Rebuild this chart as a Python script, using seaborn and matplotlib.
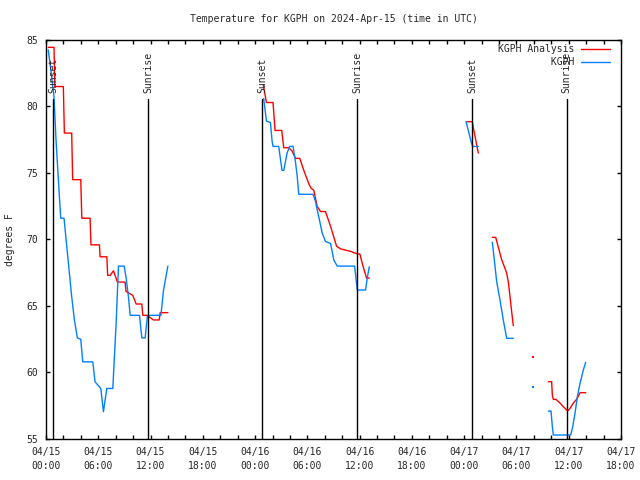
import numpy as np
import pandas as pd
import matplotlib
matplotlib.use("Agg")
import matplotlib.pyplot as plt
from matplotlib.ticker import MultipleLocator
import seaborn as sns

nan = np.nan

# hours since 2024-04-15 00:00 UTC ; NaN separates segments
ana_hours = [0.26, 0.92, 1.01, 1.99, 2.11, 2.95, 3.06, 3.99, 4.11, 5.06, 5.16, 6.13, 6.21, 6.98, 7.08,
             7.36, 7.74, 8.2, 9.08, 9.18, 9.96, 10.35, 11.0, 11.11, 11.56, 12.34, 12.99, 13.11, 13.99,
             nan,
             24.95, 25.3, 26.06, 26.29, 27.06, 27.29, 27.86, 28.25, 28.63, 29.13, 29.59, 30.16, 30.43,
             30.74, 31.12, 31.51, 32.08, 32.66, 33.35, 33.8, 34.38, 35.03, 35.34, 36.03, 36.3, 36.79, 37.11,
             nan,
             48.29, 48.93, 49.05, 49.32, 49.62,
             nan,
             51.23, 51.62, 51.8, 52.31, 52.61, 52.88, 53.06, 53.26, 53.45, 53.64,
             nan,
             55.93,
             nan,
             57.66, 58.04, 58.12, 58.23, 58.54, 59.0, 59.57, 59.88, 60.15, 60.53, 60.92, 61.3, 61.95]
ana_temp = [84.45, 84.45, 81.5, 81.5, 78.0, 78.0, 74.5, 74.5, 71.6, 71.6, 69.6, 69.6, 68.7, 68.7, 67.3,
            67.3, 67.65, 66.8, 66.8, 66.1, 65.8, 65.15, 65.15, 64.3, 64.3, 63.95, 63.95, 64.5, 64.5,
            nan,
            81.6, 80.3, 80.3, 78.2, 78.2, 76.9, 76.9, 76.65, 76.1, 76.1, 75.2, 74.2, 73.85,
            73.7, 72.5, 72.1, 72.1, 71.0, 69.5, 69.3, 69.2, 69.1, 69.0, 68.9, 68.2, 67.1, 67.1,
            nan,
            78.86, 78.86, 78.4, 77.5, 76.5,
            nan,
            70.16, 70.16, 69.71, 68.46, 67.96, 67.46, 66.83, 65.7, 64.57, 63.52,
            nan,
            61.14,
            nan,
            59.31, 59.31, 58.3, 57.98, 57.98, 57.7, 57.3, 57.1, 57.3, 57.7, 58.0, 58.48, 58.48]

obs_hours = [0.26, 0.6, 0.92, 1.15, 1.42, 1.69, 2.07, 2.38, 2.68, 2.95, 3.26, 3.6, 3.99, 4.22, 5.37,
             5.63, 6.29, 6.59, 6.98, 7.67, 7.82, 8.05, 8.32, 8.97, 9.2, 9.46, 9.66, 10.73, 11.0,
             11.38, 11.65, 13.19, 13.49, 13.99,
             nan,
             24.99, 25.3, 25.76, 25.95, 26.06, 26.71, 26.9, 27.09, 27.29, 27.67, 27.98, 28.36, 28.63,
             28.82, 29.01, 30.66, 30.93, 31.31, 31.7, 32.08, 32.66, 33.04, 33.43, 35.42, 35.73, 36.68,
             36.87, 37.11,
             nan,
             48.21, 48.47, 48.86, 48.98, 49.62,
             nan,
             51.23, 51.46, 51.73, 52.11, 52.49, 52.88, 53.64,
             nan,
             55.93,
             nan,
             57.66, 57.97, 58.12, 58.23, 60.23, 60.46, 60.72, 60.99, 61.3, 61.68, 61.95]
obs_temp = [84.25, 82.5, 80.7, 77.5, 74.5, 71.6, 71.6, 69.5, 67.5, 65.7, 63.95, 62.6, 62.5, 60.8, 60.8,
            59.3, 58.8, 57.05, 58.8, 58.8, 60.75, 63.7, 68.0, 68.0, 67.1, 65.7, 64.3, 64.3, 62.6,
            62.6, 64.3, 64.3, 66.2, 68.0,
            nan,
            80.6, 78.9, 78.8, 77.4, 77.0, 77.0, 76.1, 75.2, 75.2, 76.5, 77.0, 77.0, 75.85,
            74.85, 73.4, 73.4, 72.85, 71.7, 70.5, 69.85, 69.7, 68.45, 68.0, 68.0, 66.2, 66.2,
            67.1, 67.95,
            nan,
            78.86, 78.2, 77.2, 77.0, 77.0,
            nan,
            69.79, 68.46, 66.83, 65.45, 63.95, 62.57, 62.57,
            nan,
            58.89,
            nan,
            57.1, 57.1, 55.93, 55.3, 55.3, 55.93, 56.93, 58.18, 59.19, 60.2, 60.77]

sun_hours = [0.80, 11.74, 24.83, 35.73, 48.93, 59.77]
sun_labels = ["Sunset", "Sunrise", "Sunset", "Sunrise", "Sunset", "Sunrise"]

tick_hours = [0, 6, 12, 18, 24, 30, 36, 42, 48, 54, 60, 66]
tick_labels = ["04/15\n00:00", "04/15\n06:00", "04/15\n12:00", "04/15\n18:00",
               "04/16\n00:00", "04/16\n06:00", "04/16\n12:00", "04/16\n18:00",
               "04/17\n00:00", "04/17\n06:00", "04/17\n12:00", "04/17\n18:00"]

series_names = ["KGPH Analysis", "KGPH"]
series_colors = ["#ff0000", "#0080ff"]


def to_frame(hours, temps):
    h = np.asarray(hours, float)
    t = np.asarray(temps, float)
    seg = np.cumsum(np.isnan(h))
    df = pd.DataFrame({"hour": h, "temp": t, "seg": seg}).dropna()
    counts = df.groupby("seg")["hour"].transform("size")
    df["single"] = counts == 1
    return df


sns.set_style("white")
plt.rcParams["font.family"] = ["DejaVu Sans Mono"]
FS = 7

fig = plt.figure(figsize=(6.4, 4.8), dpi=100)
ax = fig.add_axes([46 / 640, 1 - 439 / 480, 575 / 640, 399 / 480])

for hrs, tmp, name, col in [(ana_hours, ana_temp, series_names[0], series_colors[0]),
                            (obs_hours, obs_temp, series_names[1], series_colors[1])]:
    df = to_frame(hrs, tmp)
    sns.lineplot(data=df[~df["single"]], x="hour", y="temp", units="seg", estimator=None,
                 sort=False, color=col, linewidth=1.0, ax=ax, label=name)
    sns.scatterplot(data=df[df["single"]], x="hour", y="temp", color=col, marker="s",
                    s=2, linewidth=0, ax=ax, legend=False)

for h, lab in zip(sun_hours, sun_labels):
    ax.plot([h, h], [55, 80.56], color="black", linewidth=1.0)
    ax.text(h, 81.0, lab, rotation=90, ha="center", va="bottom", fontsize=FS)

ax.set_xlim(0, 66)
ax.set_ylim(55, 85)
ax.set_xticks(tick_hours)
ax.set_xticklabels(tick_labels, fontsize=FS, linespacing=1.5)
ax.xaxis.set_minor_locator(MultipleLocator(2))
ax.set_yticks([55, 60, 65, 70, 75, 80, 85])
ax.set_yticklabels(["55", "60", "65", "70", "75", "80", "85"], fontsize=FS)
ax.tick_params(which="both", direction="in", length=3, width=1, color="black",
               top=True, right=True, bottom=True, left=True)
ax.tick_params(axis="x", which="major", pad=6)
ax.tick_params(axis="y", which="major", pad=6)
ax.set_xlabel("")
ax.set_ylabel("degrees F", fontsize=FS, labelpad=8)
for sp in ax.spines.values():
    sp.set_color("black")
    sp.set_linewidth(1.0)
ax.set_title("Temperature for KGPH on 2024-Apr-15 (time in UTC)", fontsize=FS, pad=13)

handles, labels = ax.get_legend_handles_labels()
uniq_h, uniq_l = [], []
for hnd, lab in zip(handles, labels):
    if lab not in uniq_l:
        uniq_h.append(hnd)
        uniq_l.append(lab)
width = max(len(l) for l in uniq_l)
uniq_l = [l.rjust(width) for l in uniq_l]
ax.legend(uniq_h, uniq_l, loc="upper right", bbox_to_anchor=(0.981, 0.99), frameon=False,
          markerfirst=False, fontsize=FS, handlelength=3.0, handletextpad=0.7,
          labelspacing=0.35, borderaxespad=0, borderpad=0)

fig.savefig("out.png", dpi=100)
